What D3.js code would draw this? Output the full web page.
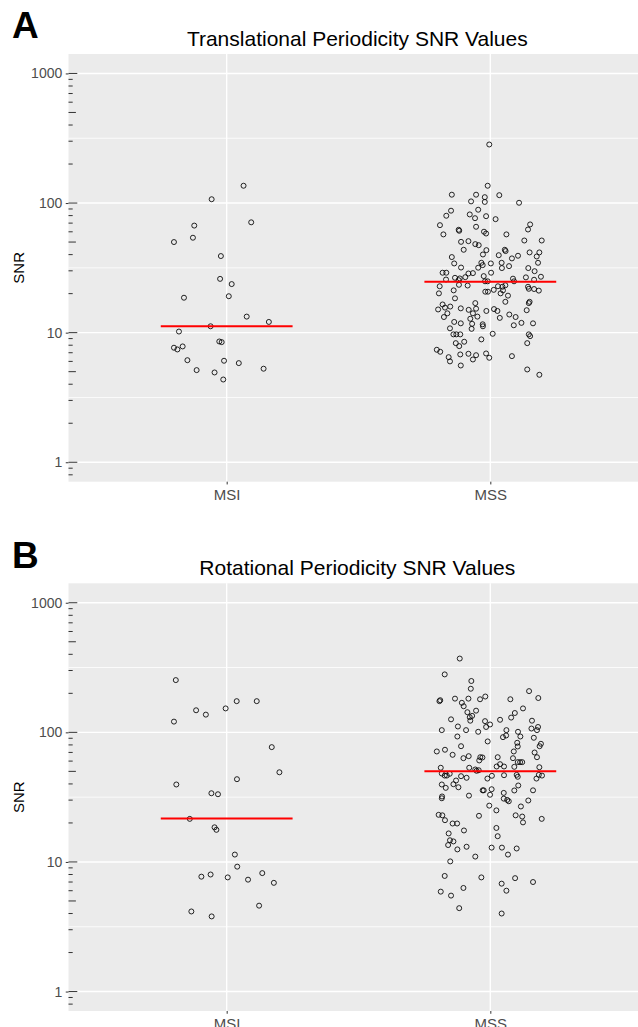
<!DOCTYPE html>
<html>
<head>
<meta charset="utf-8">
<script src="https://cdn.jsdelivr.net/npm/d3@7"></script>
<style>
  html, body { margin: 0; padding: 0; background: #ffffff; }
  svg { display: block; }
</style>
</head>
<body>
<script>
// ---------------- DATA ----------------
const categories = ["MSI", "MSS"];
const panelLetters = ["A", "B"];
const panelTitles = ["Translational Periodicity SNR Values", "Rotational Periodicity SNR Values"];
const yAxisTitle = "SNR";
const yTickValues = [1, 10, 100, 1000];
const yTickLabels = ["1", "10", "100", "1000"];

// Translational periodicity SNR values
const transMSI = [136,107,67,71,54,50,39,26,23.7,18.6,19.1,13.3,12.1,11.2,10.2,8.55,8.45,7.65,7.42,7.83,6.13,6.07,5.82,5.14,4.93,5.27,4.35];
const transMSIJitter = [0.064,-0.057,-0.123,0.093,-0.128,-0.200,-0.022,-0.025,0.019,-0.162,0.008,0.076,0.160,-0.061,-0.181,-0.028,-0.019,-0.200,-0.187,-0.167,-0.149,-0.010,0.046,-0.114,-0.046,0.140,-0.013];

const transMSS = [283,136,116,116,111,115,103,102,100.5,87.3,
88.8,79.8,81.7,76.4,79.2,75.1,67.5,65.6,68.4,62.2,
61.1,62.5,57.3,60.1,58.2,57.3,51.4,51.4,50.2,50.8,
48.2,47.3,43.6,43.3,43.6,42.6,38.3,40.1,39.6,37.4,
39.2,41.6,41.6,38.7,34.2,34.6,33.2,34.2,34.6,32.6,
31.5,34.6,31.8,31.7,31.5,29.0,29.0,28.6,28.8,29.0,
29.8,25.7,26.5,26.2,26.8,27.3,25.4,24.9,24.9,26.1,
24.9,26.7,25.6,27.0,22.8,22.8,23.4,23.1,23.2,22.6,
22.6,21.8,21.7,21.1,20.1,21.2,20.7,20.7,21.4,20.1,
21.2,19.3,18.4,17.3,17.3,16.9,16.9,16.5,15.9,15.6,
15.1,15.4,15.0,15.3,14.7,15.2,14.7,14.1,14.1,13.3,
13.8,14.9,13.2,12.8,13.0,13.2,12.1,11.8,11.7,11.6,
11.2,11.4,11.9,11.8,10.8,10.7,9.7,9.7,9.7,9.8,
9.7,9.4,8.87,8.30,8.51,8.30,7.87,7.38,7.12,6.79,
6.87,6.70,6.91,6.40,6.59,6.47,6.21,6.00,5.58,5.20,
4.73];
const transMSSJitter = [-0.004,-0.010,-0.146,-0.054,-0.021,0.034,-0.073,-0.021,0.109,-0.149,
-0.046,-0.167,-0.078,-0.058,-0.016,0.020,-0.191,-0.054,0.151,-0.120,
-0.118,0.143,-0.178,-0.024,-0.016,0.061,0.129,0.195,-0.111,-0.083,
-0.057,-0.044,-0.101,-0.015,0.055,0.058,-0.146,-0.028,0.032,0.082,
0.105,0.149,0.186,0.176,-0.137,-0.034,-0.029,0.002,0.043,0.071,
0.044,0.181,-0.111,-0.046,0.144,-0.181,-0.167,-0.083,-0.066,0.003,
0.168,-0.168,-0.134,-0.116,-0.095,-0.025,-0.120,-0.020,-0.010,0.086,
0.090,0.135,0.166,0.192,0.029,-0.192,-0.119,-0.086,0.057,0.046,
0.143,0.146,0.166,0.184,-0.195,-0.139,-0.019,-0.009,0.013,0.039,
0.048,0.067,-0.134,0.057,0.149,0.146,-0.057,-0.181,-0.152,-0.172,
-0.198,-0.112,-0.082,-0.054,-0.015,0.014,0.027,-0.163,-0.066,-0.049,
0.072,0.138,-0.176,-0.076,0.036,0.096,-0.137,-0.112,-0.069,-0.029,
-0.028,0.089,0.118,0.162,-0.153,-0.071,-0.140,-0.129,-0.114,0.009,
0.146,0.151,-0.034,-0.131,-0.099,0.140,-0.118,-0.203,-0.190,-0.114,
-0.083,-0.054,-0.016,-0.004,0.082,-0.158,-0.066,-0.153,-0.112,0.140,
0.186];

// Rotational periodicity SNR values
const rotMSI = [253,174,174,148,137,153,121,76.9,49.2,43.5,39.6,33.9,33.3,21.5,18.5,17.7,11.4,9.2,7.7,8.0,7.6,7.3,8.2,6.9,4.6,4.15,3.8];
const rotMSIJitter = [-0.193,0.038,0.114,-0.116,-0.079,-0.004,-0.200,0.171,0.200,0.039,-0.191,-0.058,-0.033,-0.140,-0.046,-0.039,0.031,0.040,-0.096,-0.061,0.004,0.081,0.135,0.179,0.123,-0.134,-0.057];

const rotMSS = [371,280,249,217,208,174,177,182,182,180,
189,180,184,169,159,147,153,143,141,131,
134,130,126,123,122,125,123,111,110,115,
104,104,101,104,107,104,110,101,92.9,91.8,
94.6,92.9,90.8,85.1,83.1,77.8,81.6,78.2,78.2,71.2,
73.4,67.1,71.2,69.9,64.3,63.2,65.5,
64.3,64.0,60.7,64.3,63.2,58.9,58.9,58.9,53.3,53.3,51.7,50.5,51.0,54.5,56.8,54.5,54.2,53.8,48.1,46.4,46.4,47.9,45.9,44.6,46.2,46.7,47.0,45.4,47.0,46.4,44.0,44.0,
39.6,37.3,39.8,42.5,37.7,35.7,35.7,36.4,33.0,34.1,35.6,38.9,35.7,32.0,31.0,32.5,30.8,30.1,29.4,29.8,27.2,25.0,26.8,23.1,22.9,21.0,22.7,22.9,22.4,20.2,21.5,19.8,19.8,17.5,18.3,16.6,15.8,14.7,14.4,13.5,13.1,12.5,12.9,12.9,12.7,11.4,11.0,10.1,7.8,7.6,7.5,7.0,6.8,6.3,6.0,5.9,5.5,4.4,4.0];
const rotMSSJitter = [-0.116,-0.173,-0.072,-0.074,0.147,-0.193,-0.190,-0.134,-0.083,-0.039,
-0.019,0.076,0.182,-0.108,-0.101,-0.054,0.124,-0.087,0.093,-0.078,
-0.069,0.079,-0.149,-0.076,-0.020,0.037,0.158,-0.123,-0.016,-0.001,
-0.184,-0.092,-0.046,0.061,0.156,0.177,0.181,0.105,-0.125,0.048,
0.060,0.114,0.165,-0.010,0.102,0.104,0.192,0.187,-0.111,-0.203,
-0.172,-0.143,0.089,0.168,0.177,-0.102,-0.082,
-0.038,-0.030,-0.042,0.028,0.086,0.104,0.113,0.121,-0.188,-0.080,-0.057,-0.052,-0.044,0.024,0.037,0.052,0.091,0.186,-0.184,-0.173,-0.165,-0.154,-0.111,-0.090,0.006,0.052,0.100,0.104,0.184,0.196,-0.011,0.175,
-0.184,-0.169,-0.140,-0.130,-0.121,-0.029,-0.025,0.005,-0.001,0.051,0.091,0.106,0.162,-0.183,-0.184,-0.081,0.051,0.064,0.070,0.144,-0.004,0.023,0.116,-0.196,-0.182,-0.172,-0.043,0.096,0.121,0.124,0.195,-0.143,-0.126,-0.100,0.023,-0.158,0.028,-0.153,-0.140,-0.160,-0.090,-0.125,0.005,0.044,0.100,0.067,-0.057,-0.152,-0.173,-0.034,0.094,0.162,0.043,-0.102,0.061,-0.188,-0.149,-0.118,0.043];

// Median lines (red)
const transMedians = [11.2, 24.7];
const rotMedians = [21.6, 50.1];

// ---------------- CHART ----------------
const W = 638, H = 1027;
const FONT = "'Liberation Sans', Arial, Helvetica, sans-serif";
const svg = d3.select("body").append("svg").attr("width", W).attr("height", H)
  .style("font-family", FONT);
svg.append("rect").attr("width", W).attr("height", H).attr("fill", "#ffffff");

const panelLeft = 68.5, panelRight = 648.5, panelHeight = 427.7;
const panelTops = [54, 583.3];

const x = d3.scalePoint().domain(categories).range([panelLeft, panelRight]).padding(0.6);
const step = x.step();

function zip(vals, jit) {
  const n = Math.min(vals.length, jit.length);
  return d3.range(n).map(i => ({ v: vals[i], j: jit[i] }));
}

const panels = [
  { series: [zip(transMSI, transMSIJitter), zip(transMSS, transMSSJitter)], medians: transMedians },
  { series: [zip(rotMSI, rotMSIJitter), zip(rotMSS, rotMSSJitter)], medians: rotMedians }
];

panels.forEach((p, pi) => {
  const top = panelTops[pi], bottom = top + panelHeight;
  const y = d3.scaleLog().domain([Math.pow(10, -0.15), Math.pow(10, 3.15)]).range([bottom, top]);
  const g = svg.append("g");

  const clipId = "clip" + pi;
  svg.append("clipPath").attr("id", clipId).append("rect")
    .attr("x", panelLeft).attr("y", top).attr("width", panelRight - panelLeft).attr("height", panelHeight);

  // panel background
  g.append("rect").attr("x", panelLeft).attr("y", top)
    .attr("width", panelRight - panelLeft).attr("height", panelHeight).attr("fill", "#EBEBEB");

  // minor gridlines
  const minor = [0.5, 1.5, 2.5].map(e => Math.pow(10, e));
  g.selectAll(".minor").data(minor).enter().append("line")
    .attr("x1", panelLeft).attr("x2", panelRight)
    .attr("y1", d => y(d)).attr("y2", d => y(d))
    .attr("stroke", "#ffffff").attr("stroke-width", 0.8);
  // major gridlines
  g.selectAll(".major").data(yTickValues).enter().append("line")
    .attr("x1", panelLeft).attr("x2", panelRight)
    .attr("y1", d => y(d)).attr("y2", d => y(d))
    .attr("stroke", "#ffffff").attr("stroke-width", 1.4);
  g.selectAll(".vmajor").data(categories).enter().append("line")
    .attr("x1", d => x(d)).attr("x2", d => x(d))
    .attr("y1", top).attr("y2", bottom)
    .attr("stroke", "#ffffff").attr("stroke-width", 1.4);

  // log ticks inside panel
  const logTicks = [];
  for (let e = -1; e <= 3; e++) {
    for (let k = 1; k <= 9; k++) {
      const v = k * Math.pow(10, e);
      if (y(v) >= top && y(v) <= bottom) logTicks.push({ v, k });
    }
  }
  g.selectAll(".logtick").data(logTicks).enter().append("line")
    .attr("x1", panelLeft).attr("x2", d => panelLeft + (d.k === 1 ? 8.8 : d.k === 5 ? 7.4 : 4.2))
    .attr("y1", d => y(d.v)).attr("y2", d => y(d.v))
    .attr("stroke", "#333333").attr("stroke-width", 1);

  // points
  const pg = g.append("g").attr("clip-path", `url(#${clipId})`);
  p.series.forEach((s, ci) => {
    pg.selectAll(null).data(s).enter().append("circle")
      .attr("cx", d => x(categories[ci]) + d.j * step)
      .attr("cy", d => y(d.v))
      .attr("r", 2.5)
      .attr("fill", "none").attr("stroke", "#000000").attr("stroke-width", 0.85);
  });

  // median lines
  pg.selectAll(".med").data(p.medians).enter().append("line")
    .attr("x1", (d, i) => x(categories[i]) - 0.25 * step)
    .attr("x2", (d, i) => x(categories[i]) + 0.25 * step)
    .attr("y1", d => y(d)).attr("y2", d => y(d))
    .attr("stroke", "#FF0000").attr("stroke-width", 2);

  // y axis
  const yAxis = d3.axisLeft(y).tickValues(yTickValues)
    .tickFormat((d, i) => yTickLabels[i]).tickSize(2.75).tickPadding(3.5);
  const ya = g.append("g").attr("transform", `translate(${panelLeft},0)`).call(yAxis);
  ya.select(".domain").remove();
  ya.selectAll(".tick line").attr("stroke", "#333333").attr("stroke-width", 1);
  ya.selectAll(".tick text").attr("fill", "#4D4D4D").style("font-size", "14px")
    .style("font-family", FONT);

  // x axis
  const xAxis = d3.axisBottom(x).tickSize(2.75).tickPadding(3);
  const xa = g.append("g").attr("transform", `translate(0,${bottom})`).call(xAxis);
  xa.select(".domain").remove();
  xa.selectAll(".tick line").attr("stroke", "#333333").attr("stroke-width", 1);
  xa.selectAll(".tick text").attr("fill", "#4D4D4D").style("font-size", "15px")
    .style("font-family", FONT).attr("dy", null).attr("y", 18.3);

  // y axis title
  g.append("text")
    .attr("transform", `translate(24,${(top + bottom) / 2}) rotate(-90)`)
    .attr("text-anchor", "middle")
    .attr("fill", "#000000").style("font-size", "15px")
    .text(yAxisTitle);

  // plot title
  g.append("text")
    .attr("x", 357.3).attr("y", top - 8.2)
    .attr("text-anchor", "middle").attr("fill", "#000000")
    .style("font-size", "21px")
    .text(panelTitles[pi]);

  // panel letter
  g.append("text")
    .attr("x", 12).attr("y", top - 15.7)
    .attr("fill", "#000000").style("font-size", "37px").style("font-weight", "bold")
    .text(panelLetters[pi]);
});
</script>
</body>
</html>
